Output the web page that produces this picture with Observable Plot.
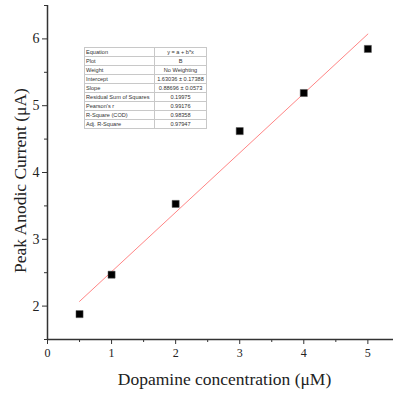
<!DOCTYPE html>
<html><head><meta charset="utf-8">
<script src="https://cdn.jsdelivr.net/npm/d3@7"></script>
<script src="https://cdn.jsdelivr.net/npm/@observablehq/plot@0.6"></script>
<style>
body{margin:0;background:#fff;}
#wrap{position:relative;width:393px;height:398px;}
table.fit{position:absolute;left:84px;top:47px;border-collapse:collapse;font:5.6px "Liberation Sans",Arial,sans-serif;color:#333;background:#fff;table-layout:fixed;width:122px}
table.fit td{border:1px solid #c8c8c8;height:8px;padding:0 1px;line-height:8px;white-space:nowrap;overflow:hidden}
table.fit td.v{text-align:center}
</style></head><body><div id="wrap"></div>
<script>
const concentration = [0.5, 1, 2, 3, 4, 5];
const current = [1.88, 2.47, 3.53, 4.62, 5.19, 5.85];
const xTicks = [0, 1, 2, 3, 4, 5];
const xMinorTicks = [0.5, 1.5, 2.5, 3.5, 4.5];
const yTicks = [2, 3, 4, 5, 6];
const yMinorTicks = [1.5, 2.5, 3.5, 4.5, 5.5, 6.5];
const fitLabels = ["Equation", "Plot", "Weight", "Intercept", "Slope", "Residual Sum of Squares", "Pearson's r", "R-Square (COD)", "Adj. R-Square"];
const fitValues = ["y = a + b*x", "B", "No Weighting", "1.63036 ± 0.17388", "0.88696 ± 0.0573", "0.19975", "0.99176", "0.98358", "0.97947"];

const data = concentration.map((x, i) => ({x, y: current[i]}));

const chart = Plot.plot({
  width: 393, height: 398,
  marginLeft: 47, marginRight: 0, marginTop: 5, marginBottom: 59,
  x: {domain: [0, 5.4]},
  y: {domain: [1.5, 6.5]},
  style: {fontFamily: "'Liberation Serif', 'DejaVu Serif', serif", color: "#222", background: "#fff"},
  marks: [
    Plot.axisX({ticks: xTicks, tickFormat: "d", tickSize: 5, tickPadding: 4, fontSize: 12, label: null, stroke: "#333"}),
    Plot.axisX({ticks: xMinorTicks, tickSize: 3, text: null, label: null, stroke: "#333"}),
    Plot.axisY({ticks: yTicks, tickFormat: "d", tickSize: 5, tickPadding: 3, fontSize: 14, label: null, stroke: "#333"}),
    Plot.axisY({ticks: yMinorTicks, tickSize: 3, text: null, label: null, stroke: "#333"}),
    Plot.ruleY([1.5], {stroke: "#333", strokeWidth: 1.5}),
    Plot.ruleX([0], {stroke: "#333", strokeWidth: 1.5}),
    Plot.linearRegressionY(data, {x: "x", y: "y", stroke: "#ff8585", strokeWidth: 1, ci: 0}),
    Plot.dot(data, {x: "x", y: "y", symbol: "square", r: 4, fill: "#000", stroke: "#555", strokeWidth: 0.5}),
    Plot.text(["Dopamine concentration (μM)"], {frameAnchor: "bottom", dx: 4, dy: 45, fontSize: 17.5, fill: "#222"}),
    Plot.text(["Peak Anodic Current (μA)"], {frameAnchor: "left", textAnchor: "middle", dx: -27, dy: 8, rotate: -90, fontSize: 17.5, fill: "#222"})
  ]
});
const wrap = document.getElementById("wrap");
wrap.appendChild(chart);
const table = document.createElement("table");
table.className = "fit";
table.innerHTML = "<colgroup><col style='width:70px'><col style='width:52px'></colgroup>" +
  fitLabels.map((l, i) => `<tr><td>${l}</td><td class="v">${fitValues[i]}</td></tr>`).join("");
wrap.appendChild(table);
</script>
</body></html>
